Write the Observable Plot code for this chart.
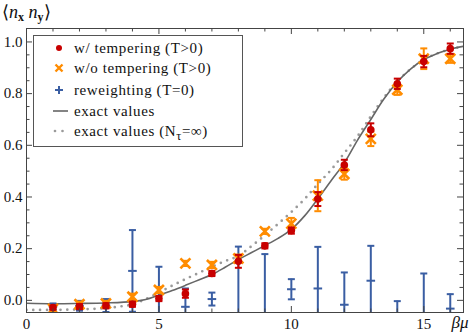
<!DOCTYPE html>
<html><head><meta charset="utf-8">
<script src="https://cdn.jsdelivr.net/npm/d3@7"></script>
<script src="https://cdn.jsdelivr.net/npm/@observablehq/plot@0.6"></script>
<style>
body{margin:0;background:#fff}
#wrap{position:relative;width:469px;height:335px}
#legend{position:absolute;left:33px;top:35px;width:210px;height:112px;border:1px solid #555;background:#fff;box-sizing:border-box;font-family:"Liberation Serif",serif;font-size:15px;letter-spacing:0.6px;color:#111}
.row{position:absolute;left:0;height:20px;width:205px}
.row svg{position:absolute;left:15px;top:0}
.row span{position:absolute;left:40px;top:1px;white-space:nowrap;line-height:18px}
</style></head>
<body><div id="wrap"></div>
<script>
// data
const beta = [1,2,3,4,5,6,7,8,9,10,11,12,13,14,15,16];
const temperingY   = [-0.028,-0.024,-0.021,-0.015,0.007,0.026,0.104,0.151,0.211,0.270,0.392,0.524,0.660,0.838,0.924,0.974];
const temperingErr = [0.008,0.01,0.01,0.01,0.01,0.016,0.01,0.025,0.01,0.012,0.027,0.02,0.025,0.02,0.022,0.02];
const noTemperingY   = [-0.033,-0.015,-0.012,0.014,0.040,0.143,0.137,0.162,0.267,0.297,0.405,0.489,0.625,0.815,0.935,0.935];
const noTemperingErr = [0.01,0.01,0.01,0.012,0.012,0.01,0.012,0.015,0.01,0.022,0.06,0.022,0.028,0.02,0.04,0.016];
const reweightY   = [-0.024,-0.021,-0.020,0.114,-0.050,-0.025,0.005,-0.070,-0.080,0.043,0.046,-0.017,0.076,-0.070,-0.080,-0.032];
const reweightErr = [0.012,0.019,0.025,0.158,0.180,0.071,0.025,0.278,0.259,0.039,0.161,0.125,0.135,0.067,0.184,0.056];
const exactX = [0,1,2,3,4,4.5,5,5.5,6,6.5,7,7.5,8,8.5,9,9.5,10,10.5,11,11.5,12,12.5,13,13.5,14,14.5,15,15.5,16,16.5];
const exactY = [-0.011,-0.013,-0.012,-0.010,-0.005,0.003,0.02,0.038,0.058,0.079,0.10,0.128,0.158,0.185,0.212,0.24,0.275,0.327,0.393,0.463,0.532,0.62,0.70,0.78,0.845,0.895,0.932,0.955,0.972,0.983];
const infX = [0,1,2,3,3.5,4,4.5,5,5.5,6,6.5,7,7.5,8,8.5,9,9.5,10,10.5,11,11.5,12,12.5,13,13.5,14,14.5,15,15.5,16,16.5];
const infY = [-0.037,-0.037,-0.035,-0.030,-0.024,-0.016,0.005,0.030,0.057,0.082,0.106,0.130,0.152,0.172,0.210,0.252,0.296,0.342,0.392,0.450,0.505,0.570,0.635,0.712,0.785,0.847,0.895,0.932,0.955,0.972,0.983];
const xMajor = [0,5,10,15];
const xMinor = [1,2,3,4,6,7,8,9,11,12,13,14,16];
const yMajor = [0,0.2,0.4,0.6,0.8,1.0];
const yMinor = [0.05,0.1,0.15,0.25,0.3,0.35,0.45,0.5,0.55,0.65,0.7,0.75,0.85,0.9,0.95];

const RED="#c80000", ORANGE="#ff8c00", BLUE="#3a5ea3";
const W=469,H=335,mL=26,mR=6,mT=28,mB=23;
const iW=W-mL-mR, iH=H-mT-mB;

const pts=(ys,es)=>beta.map((x,i)=>({x,y:ys[i],e:es[i]}));
const temp=pts(temperingY,temperingErr), notemp=pts(noTemperingY,noTemperingErr), rew=pts(reweightY,reweightErr);
const exact=exactX.map((x,i)=>({x,y:exactY[i]}));
const inf=infX.map((x,i)=>({x,y:infY[i]}));
const hline={draw(ctx,size){const r=Math.sqrt(size/Math.PI);ctx.moveTo(-r,0);ctx.lineTo(r,0);}};

function err(data,color,sw,cap){
  return [
    Plot.ruleX(data,{x:"x",y1:d=>d.y-d.e,y2:d=>d.y+d.e,stroke:color,strokeWidth:sw,clip:true}),
    Plot.dot(data,{x:"x",y:d=>d.y-d.e,symbol:hline,r:cap,stroke:color,strokeWidth:sw,clip:true}),
    Plot.dot(data,{x:"x",y:d=>d.y+d.e,symbol:hline,r:cap,stroke:color,strokeWidth:sw,clip:true})
  ];
}
const TK="#444";
const chart=Plot.plot({
  width:W,height:H,marginLeft:mL,marginRight:mR,marginTop:mT,marginBottom:mB,
  style:{fontFamily:"Liberation Serif, serif",fontSize:"15px",color:"#111",background:"#fff"},
  x:{domain:[0,16.5]},
  y:{domain:[-0.047,1.052]},
  marks:[
    Plot.line(inf,{x:"x",y:"y",curve:"catmull-rom",stroke:"#9a9a9a",strokeWidth:2.7,strokeDasharray:"0,6.8",strokeLinecap:"round",clip:true}),
    Plot.line(exact,{x:"x",y:"y",curve:"catmull-rom",stroke:"#666",strokeWidth:1.6,clip:true}),
    ...err(rew,BLUE,2,3.5),
    Plot.dot(rew,{x:"x",y:"y",symbol:hline,r:4.3,stroke:BLUE,strokeWidth:2,clip:true}),
    ...err(notemp,ORANGE,2,3.5),
    Plot.dot(notemp,{x:"x",y:"y",symbol:"times",r:4.6,stroke:ORANGE,strokeWidth:2.6,clip:true}),
    ...err(temp,RED,2,3.5),
    Plot.dot(temp,{x:"x",y:"y",r:3.8,fill:RED,clip:true}),
    Plot.frame({stroke:TK}),
    Plot.tickX(xMajor,{x:d=>d,insetTop:iH-6,stroke:TK}),
    Plot.tickX(xMinor,{x:d=>d,insetTop:iH-3.5,stroke:TK}),
    Plot.tickX(xMajor,{x:d=>d,insetBottom:iH-6,stroke:TK}),
    Plot.tickX(xMinor,{x:d=>d,insetBottom:iH-3.5,stroke:TK}),
    Plot.tickY(yMajor,{y:d=>d,insetRight:iW-6,stroke:TK}),
    Plot.tickY(yMinor,{y:d=>d,insetRight:iW-3.5,stroke:TK}),
    Plot.tickY(yMajor,{y:d=>d,insetLeft:iW-6,stroke:TK}),
    Plot.tickY(yMinor,{y:d=>d,insetLeft:iW-3.5,stroke:TK}),
    Plot.axisX({ticks:xMajor,tickSize:0,tickPadding:6,label:null,fontSize:15}),
    Plot.axisY({ticks:yMajor,tickFormat:d3.format(".1f"),tickSize:0,tickPadding:4,label:null,fontSize:15}),
    Plot.text(["βμ"],{frameAnchor:"bottom-right",textAnchor:"end",lineAnchor:"top",dx:5,dy:3,fontStyle:"italic",fontSize:17})
  ]
});
const svg=d3.select(chart);
const yl=svg.append("text").attr("x",2).attr("y",18).attr("text-anchor","start").attr("font-family","Liberation Serif, serif").attr("font-size",18).attr("fill","#111");
yl.append("tspan").text("⟨");
yl.append("tspan").attr("font-style","italic").text("n");
yl.append("tspan").attr("font-weight","bold").attr("font-size",12).attr("dy",3).text("x");
yl.append("tspan").attr("dy",-3).text(" ");
yl.append("tspan").attr("font-style","italic").text("n");
yl.append("tspan").attr("font-weight","bold").attr("font-size",12).attr("dy",3).text("y");
yl.append("tspan").attr("dy",-3).text("⟩");
const wrap=document.getElementById("wrap");
wrap.appendChild(chart);

// legend
const legendLabels=["w/ tempering (T>0)","w/o tempering (T>0)","reweighting (T=0)","exact values","exact values (N<sub>τ</sub>=∞)"];
const legendTops=[2,22,44,65,85];
const legendSyms=[
  `<circle cx="10" cy="10" r="3" fill="${RED}"/>`,
  `<path d="M6.5,6.5L13.5,13.5M13.5,6.5L6.5,13.5" stroke="${ORANGE}" stroke-width="2.4"/>`,
  `<path d="M6,10H14M10,6V14" stroke="${BLUE}" stroke-width="2"/>`,
  `<path d="M4,10H19" stroke="#666" stroke-width="1.6"/>`,
  `<path d="M6,10H19" stroke="#9a9a9a" stroke-width="2.7" stroke-dasharray="0,7.5" stroke-linecap="round"/>`
];
const lg=document.createElement("div");lg.id="legend";
legendLabels.forEach((t,i)=>{
  const r=document.createElement("div");r.className="row";r.style.top=legendTops[i]+"px";
  r.innerHTML=`<svg width="22" height="20">${legendSyms[i]}</svg><span>${t}</span>`;
  lg.appendChild(r);
});
wrap.appendChild(lg);
</script>
</body></html>
